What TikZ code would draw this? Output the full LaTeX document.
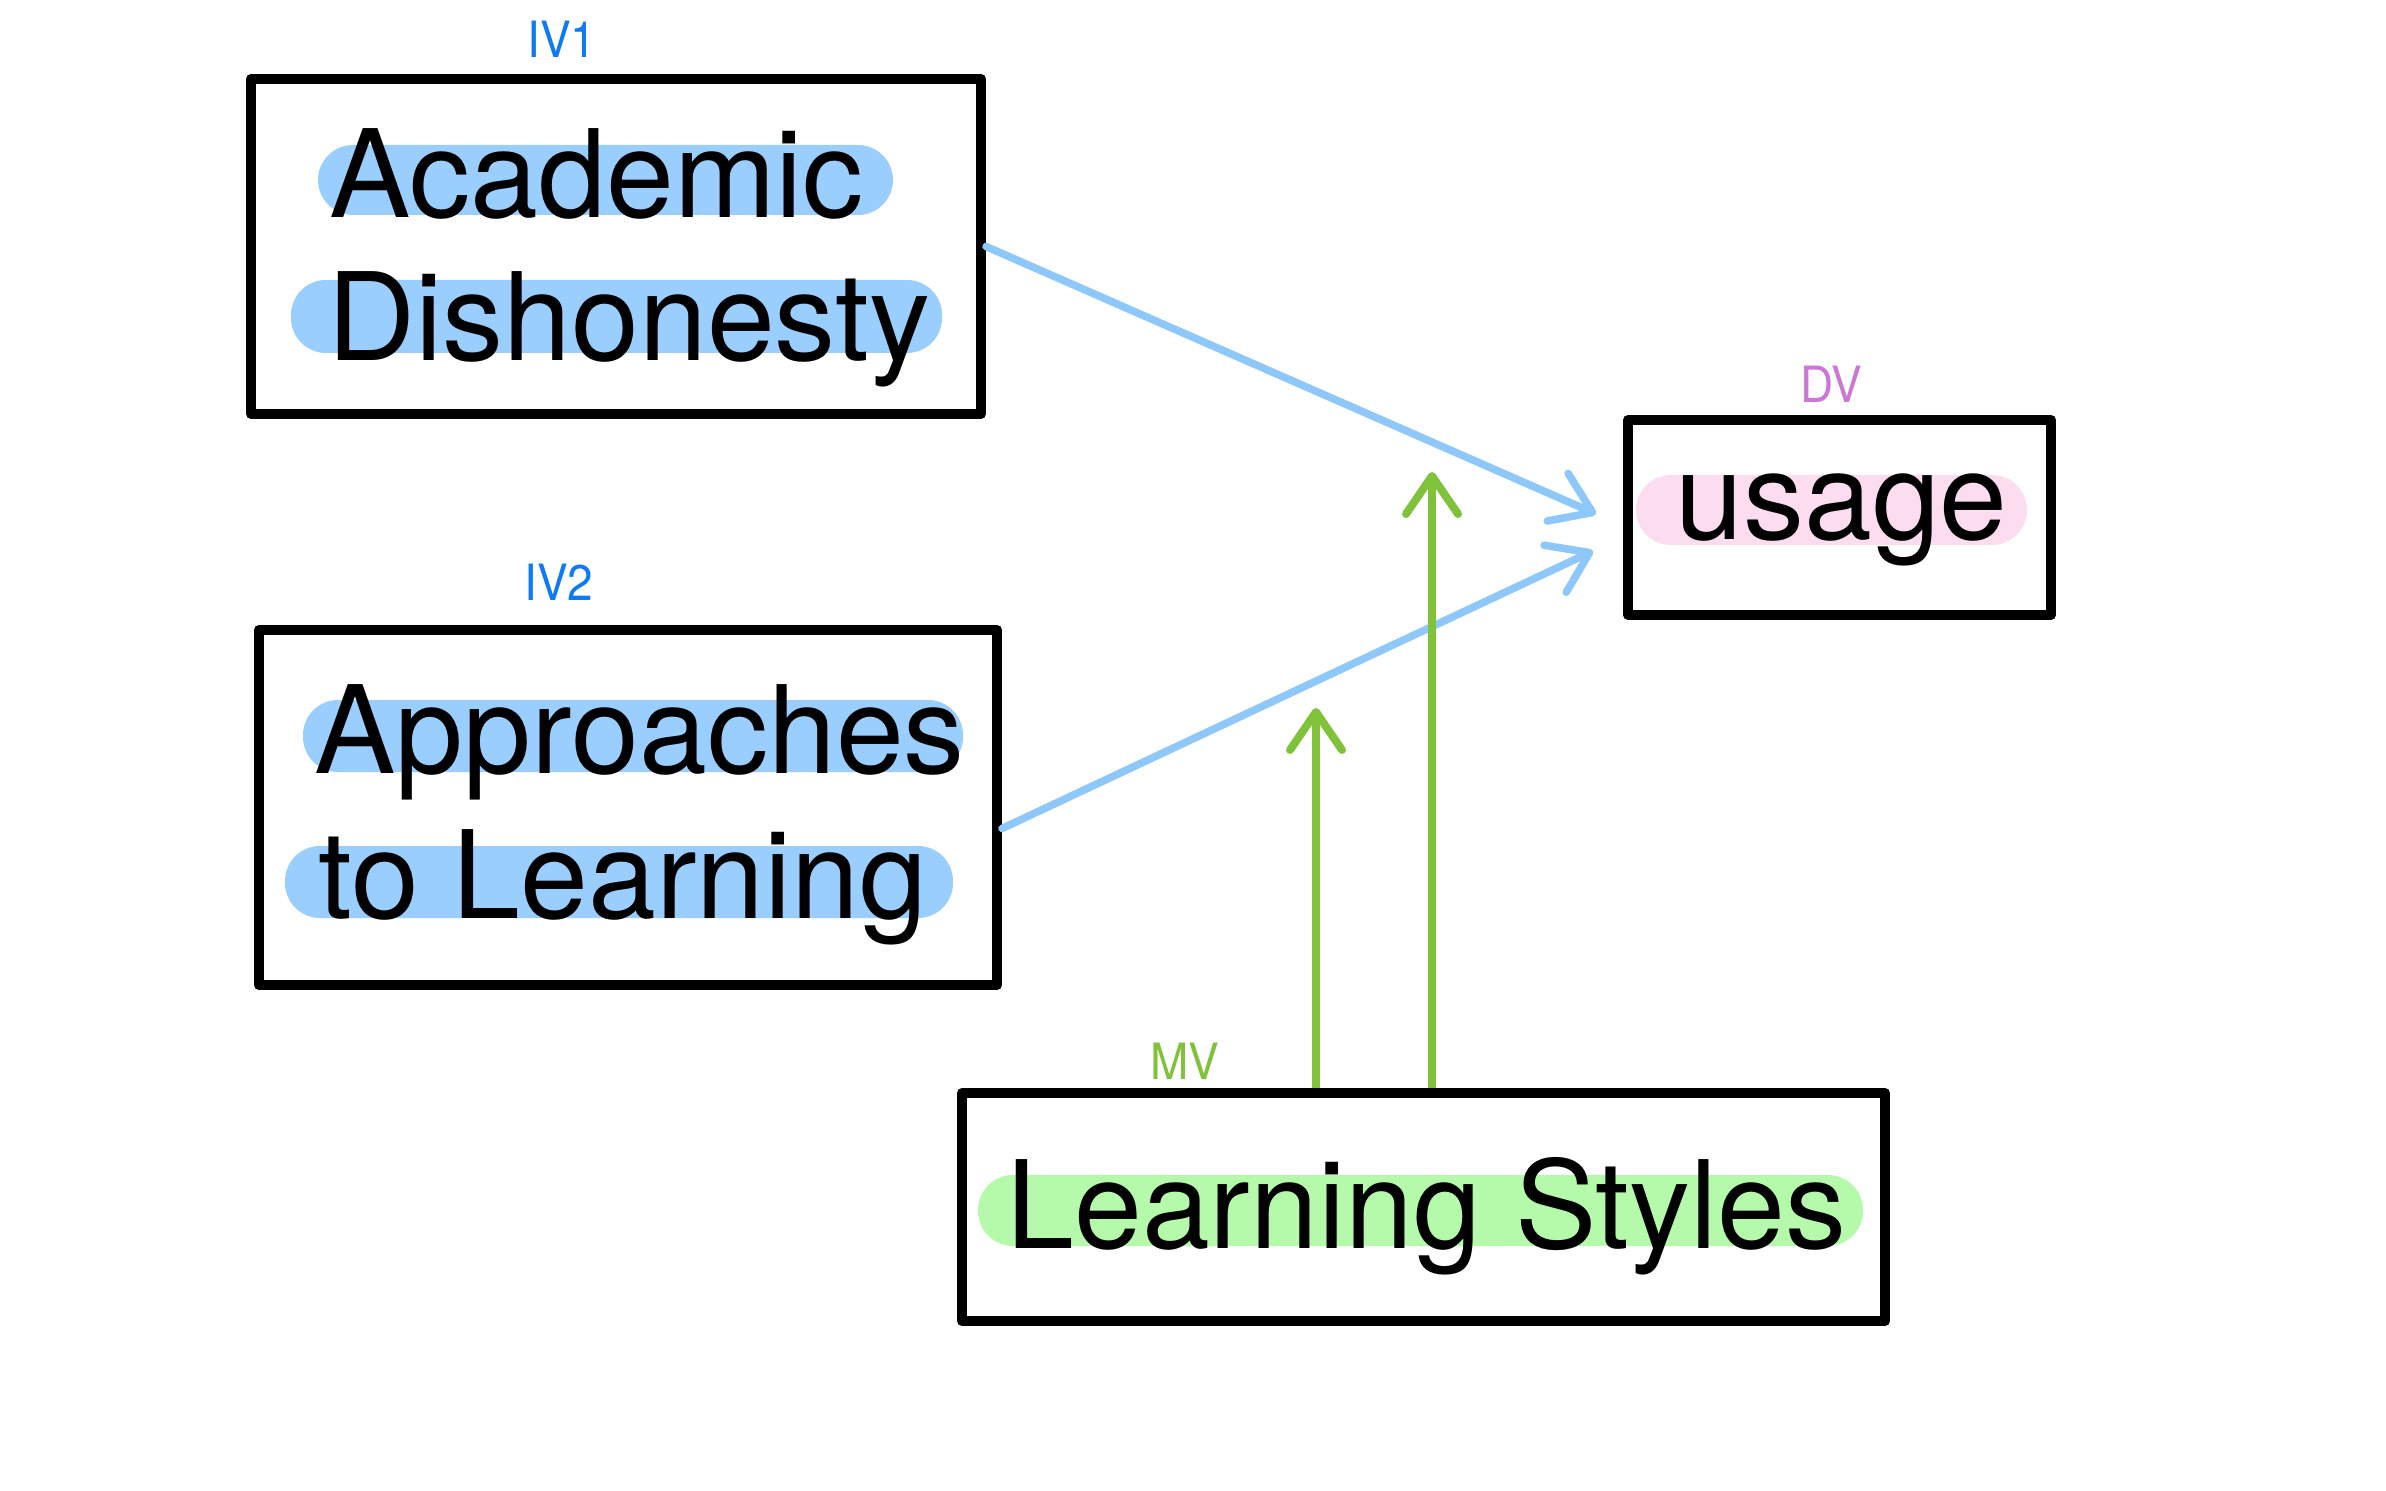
\documentclass[tikz,border=0pt]{standalone}
\usepackage{fontspec}
\usepackage{graphicx}
\setmainfont{TeX Gyre Heros}
\usetikzlibrary{arrows.meta,calc}
\definecolor{ivblue}{RGB}{14,122,245}
\definecolor{lineblue}{RGB}{142,200,250}
\definecolor{hlblue}{RGB}{153,206,255}
\definecolor{hlpink}{RGB}{252,221,240}
\definecolor{dvpurple}{RGB}{204,119,213}
\definecolor{mvgreen}{RGB}{128,194,58}
\definecolor{hlgreen}{RGB}{180,250,170}
\tikzset{
  varbox/.style={draw=black, line width=5pt, line join=round, rectangle, inner sep=0pt},
  bigtext/.style={anchor=base west, inner sep=0pt, font=\fontsize{61}{72}\selectfont},
  smalllabel/.style={anchor=base, inner sep=0pt, font=\fontsize{25}{28}\selectfont},
  hl/.style={rounded corners=17.5pt},
  blueflow/.style={draw=lineblue, line width=3.8pt, line cap=round, -{Straight Barb[length=19pt,width=26pt,round]}},
  greenflow/.style={draw=mvgreen, line width=4pt, -{Straight Barb[length=19pt,width=26pt,round]}}
}
\begin{document}
\begin{tikzpicture}[x=0.5pt,y=-0.5pt]
\useasboundingbox[fill=white] (0,0) rectangle (2386,1491);

% highlights
\fill[hlblue,hl] (318,145) rectangle (893,215);
\fill[hlblue,hl] (291,280) rectangle (942,353);
\fill[hlblue,hl] (303,700) rectangle (963,772);
\fill[hlblue,hl] (285,846) rectangle (953,918);
\fill[hlpink,hl] (1636,475) rectangle (2027,545);
\fill[hlgreen,hl] (978,1175) rectangle (1863,1246);

% boxes
\node[varbox, minimum width=365pt, minimum height=167.5pt] (iv1) at (616,246.5) {};
\node[varbox, minimum width=369pt, minimum height=177.5pt] (iv2) at (628,807.5) {};
\node[varbox, minimum width=211.5pt, minimum height=97.5pt] (dv) at (1839.5,517.5) {};
\node[varbox, minimum width=461.5pt, minimum height=114pt] (mv) at (1423.5,1207) {};

% texts
\node[bigtext] (t-acad) at (329,218) {Academic};
\node[bigtext] (t-dish) at (327,361) {Dishonesty};
\node[bigtext] (t-appr) at (314,773) {Approaches};
\node[bigtext] (t-tolr) at (318,918) {to Learning};
\node[bigtext] (t-usage) at (1675,540) {usage};
\node[bigtext] (t-ls) at (1006,1248) {Learning Styles};

% labels
\node[smalllabel, text=ivblue] (l-iv1) at (562,58) {\scalebox{0.92}[1]{IV1}};
\node[smalllabel, text=ivblue] (l-iv2) at (559,601) {\scalebox{0.92}[1]{IV2}};
\node[smalllabel, text=dvpurple] (l-dv) at (1831,403) {\scalebox{0.92}[1]{DV}};
\node[smalllabel, text=mvgreen] (l-mv) at (1185,1079) {\scalebox{0.92}[1]{MV}};

% arrow end points
\coordinate (t1) at (1596,514);
\coordinate (t2) at (1593,551);
\coordinate (g1) at (1316,708);
\coordinate (g2) at (1432,472);

% connectors
\draw[blueflow] (iv1.east) -- (t1);
\draw[blueflow] ([yshift=-10.5pt]iv2.east) -- (t2);
\draw[greenflow] ([xshift=-53.75pt]mv.north) -- (g1);
\draw[greenflow] ([xshift=4.25pt]mv.north) -- (g2);
\end{tikzpicture}
\end{document}
